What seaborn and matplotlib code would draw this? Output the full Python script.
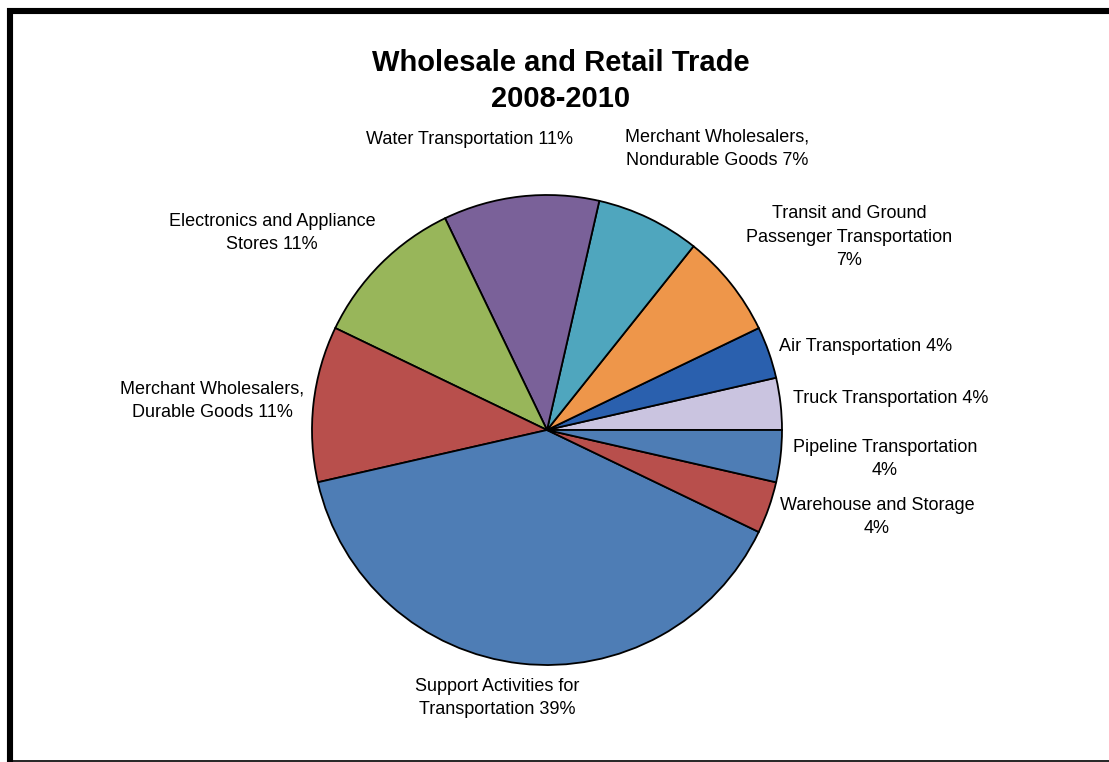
import matplotlib
matplotlib.use("Agg")
import matplotlib.pyplot as plt
from matplotlib.lines import Line2D
import seaborn as sns

sns.set_theme(style="white")
plt.rcParams["font.family"] = ["Liberation Sans", "DejaVu Sans"]
plt.rcParams["text.color"] = "black"

# counts behind the rounded percentages (28 in total), counter-clockwise from 3 o'clock
categories = [
    "Truck Transportation",
    "Air Transportation",
    "Transit and Ground Passenger Transportation",
    "Merchant Wholesalers, Nondurable Goods",
    "Water Transportation",
    "Electronics and Appliance Stores",
    "Merchant Wholesalers, Durable Goods",
    "Support Activities for Transportation",
    "Warehouse and Storage",
    "Pipeline Transportation",
]
counts = [1, 1, 2, 2, 3, 3, 3, 11, 1, 1]
label_text = [
    "Truck Transportation 4%",
    "Air Transportation 4%",
    "Transit and Ground\nPassenger Transportation\n7%",
    "Merchant Wholesalers,\nNondurable Goods 7%",
    "Water Transportation 11%",
    "Electronics and Appliance\nStores 11%",
    "Merchant Wholesalers,\nDurable Goods 11%",
    "Support Activities for\nTransportation 39%",
    "Warehouse and Storage\n4%",
    "Pipeline Transportation\n4%",
]
colors = sns.color_palette([
    "#CAC4E0", "#2A60AE", "#EE964A", "#4FA6BE", "#7A6199",
    "#98B65A", "#B84F4C", "#4E7DB5", "#B84F4C", "#4E7DB5",
])

# label centres in pixels (layout only)
label_pos = [
    (891, 399), (866, 347), (849, 237), (717, 149), (470, 139),
    (272, 233), (212, 401), (497, 698), (877, 517), (885, 459),
]

W, H = 1109, 762
CX, CY, R = 547, 430, 235

fig = plt.figure(figsize=(W / 100, H / 100), dpi=100)
ax = fig.add_axes([0, 0, 1, 1])
ax.pie(counts, colors=colors, startangle=0, counterclock=True, radius=1,
       wedgeprops={"edgecolor": "black", "linewidth": 1.3})
ax.set_xlim(-CX / R, (W - CX) / R)
ax.set_ylim((CY - H) / R, CY / R)
ax.set_aspect("equal")
ax.axis("off")

for txt, (px, py) in zip(label_text, label_pos):
    fig.text(px / W, 1 - py / H, txt, ha="center", va="center",
             fontsize=13, color="black", linespacing=1.5)

fig.text(561 / W, 1 - 81 / H, "Wholesale and Retail Trade\n2008-2010",
         ha="center", va="center", fontsize=21, fontweight="bold",
         color="black", linespacing=1.4)

# frame: heavy top and left, thin bottom
fig.add_artist(Line2D([7 / W, 1], [1 - 11 / H, 1 - 11 / H], color="black", lw=4.4,
                      transform=fig.transFigure, solid_capstyle="butt"))
fig.add_artist(Line2D([10 / W, 10 / W], [0, 1 - 8 / H], color="black", lw=4.4,
                      transform=fig.transFigure, solid_capstyle="butt"))
fig.add_artist(Line2D([7 / W, 1], [1.5 / H, 1.5 / H], color="black", lw=1.2,
                      transform=fig.transFigure, solid_capstyle="butt"))

fig.savefig("out.png", dpi=100, facecolor="white")
